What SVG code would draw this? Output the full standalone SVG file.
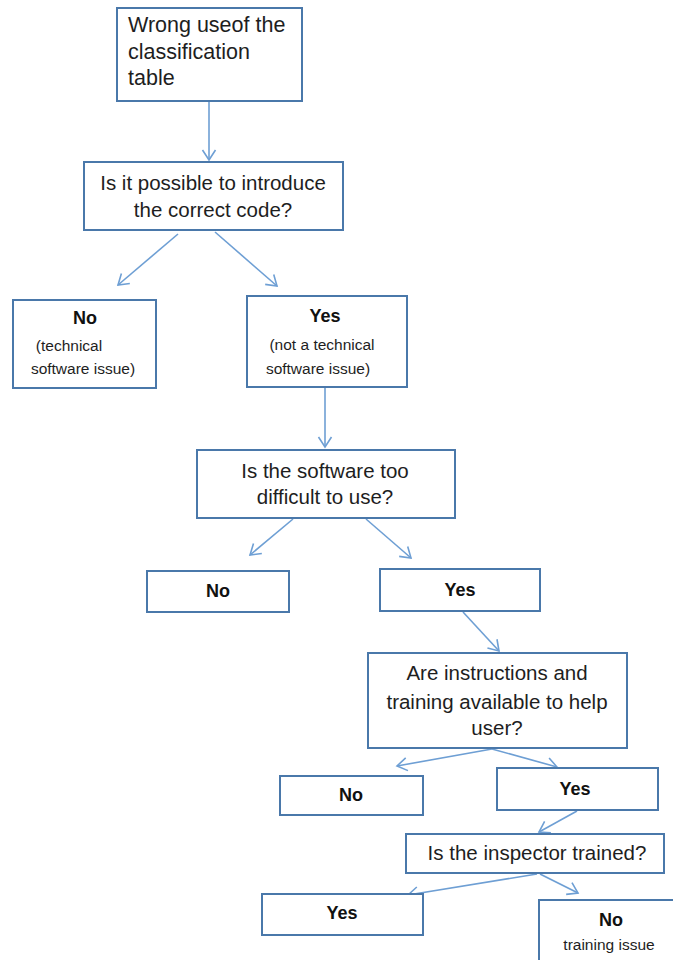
<svg xmlns="http://www.w3.org/2000/svg" width="673" height="960" viewBox="0 0 673 960">
  <style>
    .box { fill: #ffffff; stroke: #4a78aa; stroke-width: 2; }
    .q { font-family: "Liberation Sans", Arial, sans-serif; font-size: 20.5px; fill: #1e1e1e; text-anchor: middle; }
    .lead { text-anchor: start; font-size: 21.5px; }
    .ans { font-family: "Liberation Sans", Arial, sans-serif; font-size: 18px; font-weight: bold; fill: #111111; text-anchor: middle; }
    .note { font-family: "Liberation Sans", Arial, sans-serif; font-size: 15.5px; fill: #1e1e1e; text-anchor: middle; }
    .arrow { fill: none; stroke: #6e9fd4; stroke-width: 1.6; marker-end: url(#open); }
  </style>
  <defs>
    <marker id="open" viewBox="-12 -8 14 16" refX="0" refY="0" markerWidth="14" markerHeight="16" markerUnits="userSpaceOnUse" orient="auto">
      <path d="M-10,-6.5 L0,0 L-10,6.5" fill="none" stroke="#6e9fd4" stroke-width="1.6"/>
    </marker>
  </defs>
  <rect width="673" height="960" fill="#ffffff"/>

  <g id="connectors">
    <line class="arrow" x1="209" y1="102" x2="209" y2="160"/>
    <line class="arrow" x1="178" y1="234" x2="118" y2="285"/>
    <line class="arrow" x1="215" y1="232" x2="277" y2="286"/>
    <line class="arrow" x1="325" y1="388" x2="325" y2="447"/>
    <line class="arrow" x1="293" y1="519" x2="250" y2="555"/>
    <line class="arrow" x1="366" y1="519" x2="411" y2="558"/>
    <line class="arrow" x1="463" y1="612" x2="499" y2="651"/>
    <line class="arrow" x1="492" y1="749" x2="397" y2="766"/>
    <line class="arrow" x1="492" y1="749" x2="557" y2="767"/>
    <line class="arrow" x1="577" y1="811" x2="539" y2="832"/>
    <line class="arrow" x1="537" y1="874" x2="408" y2="895"/>
    <line class="arrow" x1="540" y1="874" x2="578" y2="893"/>
  </g>

  <g id="wrong-use">
    <rect class="box" x="117" y="8" width="185" height="93"/>
    <text class="q lead" x="128" y="32">Wrong useof the</text>
    <text class="q lead" x="128" y="59">classification</text>
    <text class="q lead" x="128" y="85">table</text>
  </g>

  <g id="correct-code">
    <rect class="box" x="84" y="162" width="259" height="68"/>
    <text class="q" x="213" y="190">Is it possible to introduce</text>
    <text class="q" x="213" y="217">the correct code?</text>
  </g>

  <g id="no-technical">
    <rect class="box" x="13" y="300" width="143" height="88"/>
    <text class="ans" x="85" y="324">No</text>
    <text class="note" x="69" y="351">(technical</text>
    <text class="note" x="83" y="374">software issue)</text>
  </g>

  <g id="yes-not-technical">
    <rect class="box" x="247" y="296" width="160" height="91"/>
    <text class="ans" x="325" y="322">Yes</text>
    <text class="note" x="322" y="350">(not a technical</text>
    <text class="note" x="318" y="374">software issue)</text>
  </g>

  <g id="too-difficult">
    <rect class="box" x="197" y="450" width="258" height="68"/>
    <text class="q" x="325" y="478">Is the software too</text>
    <text class="q" x="325" y="504">difficult  to use?</text>
  </g>

  <g id="no-difficult">
    <rect class="box" x="147" y="571" width="142" height="41"/>
    <text class="ans" x="218" y="597">No</text>
  </g>

  <g id="yes-difficult">
    <rect class="box" x="380" y="569" width="160" height="42"/>
    <text class="ans" x="460" y="596">Yes</text>
  </g>

  <g id="instructions">
    <rect class="box" x="368" y="653" width="259" height="95"/>
    <text class="q" x="497" y="680">Are instructions and</text>
    <text class="q" x="497" y="709">training available to help</text>
    <text class="q" x="497" y="735">user?</text>
  </g>

  <g id="no-instructions">
    <rect class="box" x="280" y="776" width="143" height="39"/>
    <text class="ans" x="351" y="801">No</text>
  </g>

  <g id="yes-instructions">
    <rect class="box" x="497" y="768" width="161" height="42"/>
    <text class="ans" x="575" y="795">Yes</text>
  </g>

  <g id="inspector-trained">
    <rect class="box" x="406" y="834" width="258" height="39"/>
    <text class="q" x="537" y="860">Is the inspector trained?</text>
  </g>

  <g id="yes-trained">
    <rect class="box" x="262" y="894" width="161" height="41"/>
    <text class="ans" x="342" y="919">Yes</text>
  </g>

  <g id="no-trained">
    <rect class="box" x="539" y="900" width="140" height="70"/>
    <text class="ans" x="611" y="926">No</text>
    <text class="note" x="609" y="950">training issue</text>
  </g>
</svg>
